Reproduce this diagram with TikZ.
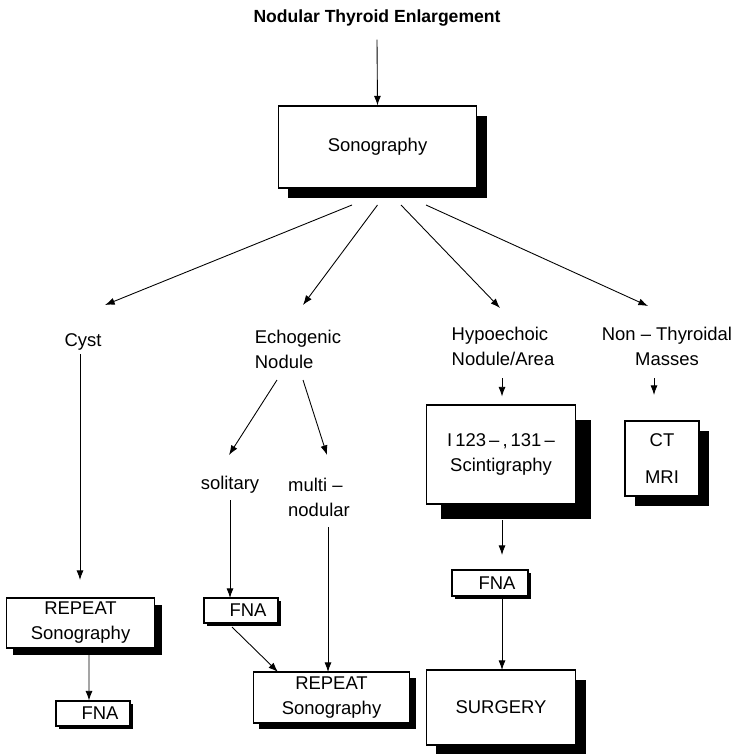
\documentclass[tikz,border=0pt]{standalone}
\usepackage{fontspec}
\setmainfont{Liberation Sans}
\usetikzlibrary{arrows.meta,shadows}

\begin{document}
\begin{tikzpicture}[x=0.02cm,y=-0.02cm,>={Latex[length=5.5pt,width=4pt]},
  font=\fontsize{10.5}{14.2}\selectfont,line width=0.5pt,
  b/.style 2 args={draw,fill=white,line width=0.8pt,align=center,inner sep=0pt,
    minimum width=#1*0.567pt,minimum height=#2*0.567pt},
  sh/.style={general shadow={fill=black,shadow xshift=#1,shadow yshift=-#1}},
  lbl/.style={inner sep=0pt,align=left}]
\useasboundingbox (0,0) rectangle (736,754);
\node[font=\fontsize{10}{12}\selectfont\bfseries] (top) at (377,18) {Nodular Thyroid Enlargement};
\node[b={199}{82},sh=5.7pt] (son) at (377.5,147) {Sonography};
% findings
\node[lbl] (cyst) at (83,342) {Cyst};
\node[lbl] (echo) at (298,349) {Echogenic\\Nodule};
\node[lbl] (hypo) at (503,346) {Hypoechoic\\Nodule/Area};
\node[lbl,align=center] (nont) at (667,346) {Non – Thyroidal\\Masses};
\node[lbl] (sol) at (230,485) {solitary};
\node[lbl] (mult) at (319,497) {multi –\\nodular};
% procedures
\node[b={149}{50},sh=4pt] (rep1) at (80.5,623) {REPEAT\\Sonography};
\node[b={74}{25},sh=1.7pt] (fna1) at (93,713.5) {\hspace*{8pt}FNA};
\node[b={74}{25},sh=1.7pt] (fna2) at (241,610.5) {\hspace*{8pt}FNA};
\node[b={157}{51},sh=3.4pt] (rep2) at (331.5,697.5) {REPEAT\\Sonography};
\node[b={150}{99},sh=8.5pt] (scin) at (501,454.5) {I\,123\,–\,,\,131\,–\\Scintigraphy};
\node[b={76}{26},sh=1.7pt] (fna3) at (490,583) {\hspace*{8pt}FNA};
\node[b={150}{75},sh=5.7pt] (surg) at (501,707.5) {SURGERY};
\node[b={74}{75},sh=5.7pt] (ctmri) at (662,458.5) {CT\\[7pt]MRI};
% arrows
\draw[->] ([yshift=-4pt]top.south) -- (son.north);
\draw[->] ([shift={(-25.5,58)}]son.center) -- ([shift={(22,-37)}]cyst.center);
\draw[->] ([shift={(0,58)}]son.center) -- ([shift={(5,-44)}]echo.center);
\draw[->] ([shift={(23.5,58)}]son.center) -- ([shift={(-3,-38)}]hypo.center);
\draw[->] ([shift={(48.5,58)}]son.center) -- ([shift={(-19,-40)}]nont.center);
\draw[->] ([shift={(-3,12)}]cyst.center) -- ([shift={(-0.5,-43)}]rep1.center);
\draw[->] ([shift={(8.5,32)}]rep1.center) -- ([shift={(-4,-13)}]fna1.center);
\draw[->] ([shift={(-21,31)}]echo.center) -- ([shift={(-1,-30)}]sol.center);
\draw[->] ([shift={(5,31)}]echo.center) -- ([shift={(8,-42)}]mult.center);
\draw[->] ([shift={(0,15)}]sol.center) -- ([shift={(-11,-12.5)}]fna2.center);
\draw[->] ([shift={(9,30)}]mult.center) -- ([shift={(-3.5,-25.5)}]rep2.center);
\draw[->] ([shift={(-9,16.5)}]fna2.center) -- ([shift={(-53.5,-25.5)}]rep2.center);
\draw[->] ([shift={(-1,32)}]hypo.center) -- ([shift={(1,-58)}]scin.center);
\draw[->] ([shift={(1,65.5)}]scin.center) -- ([shift={(12,-28)}]fna3.center);
\draw[->] ([shift={(12,13)}]fna3.center) -- ([shift={(1,-37.5)}]surg.center);
\draw[->] ([shift={(-13,32)}]nont.center) -- ([shift={(-8,-63.5)}]ctmri.center);
\end{tikzpicture}
\end{document}
